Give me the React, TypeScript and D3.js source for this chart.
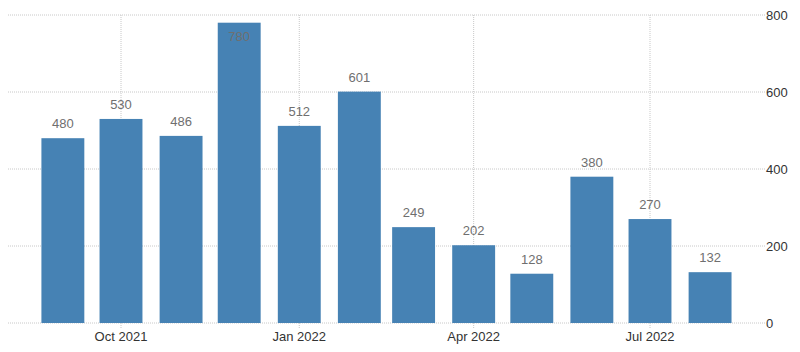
import React from "react"
import * as d3 from "d3"

// monthly values, Sep 2021 .. Aug 2022
const months = [
  "2021-09", "2021-10", "2021-11", "2021-12", "2022-01", "2022-02",
  "2022-03", "2022-04", "2022-05", "2022-06", "2022-07", "2022-08",
]
const values = [480, 530, 486, 780, 512, 601, 249, 202, 128, 380, 270, 132]
const yTicks = [0, 200, 400, 600, 800]

const W = 800
const H = 352
const FONT = "'Liberation Sans', Arial, sans-serif"

const parse = d3.timeParse("%Y-%m")

export default function App() {
  const dates = months.map((m) => parse(m) as Date)

  // time axis: pin Oct 2021 and Jul 2022 ticks
  const x = d3
    .scaleTime()
    .domain([new Date(2021, 9, 1), new Date(2022, 6, 1)])
    .range([121, 650])
  const y = d3.scaleLinear().domain([0, 800]).range([323, 15])

  const gridLeft = 8
  const gridRight = 765
  const monthPx = (x.range()[1] - x.range()[0]) / 9
  const barW = monthPx * 0.73

  const xTicks = x.ticks(d3.timeMonth.every(3) as any)
  const fmt = d3.timeFormat("%b %Y")

  return (
    <svg
      width={W}
      height={H}
      style={{ position: "absolute", left: 0, top: 0, background: "#fff" }}
      fontFamily={FONT}
    >
      {/* horizontal grid */}
      {yTicks.map((t) => (
        <g key={"y" + t}>
          <line
            x1={gridLeft}
            x2={gridRight}
            y1={y(t)}
            y2={y(t)}
            stroke="#c8c8c8"
            strokeDasharray="1,1"
            strokeWidth={1}
          />
          <text x={gridRight + 1} y={y(t) + 5} fontSize={13} fill="#333">
            {t}
          </text>
        </g>
      ))}

      {/* vertical grid + x labels */}
      {xTicks.map((d) => (
        <g key={"x" + d.getTime()}>
          <line
            x1={x(d)}
            x2={x(d)}
            y1={y(800)}
            y2={y(0) + 5}
            stroke="#c8c8c8"
            strokeDasharray="1,1"
            strokeWidth={1}
          />
          <text x={x(d)} y={341} fontSize={13} fill="#333" textAnchor="middle">
            {fmt(d)}
          </text>
        </g>
      ))}

      {/* bars */}
      {dates.map((d, i) => {
        const top = y(values[i])
        const inside = top - 23 < y(800)
        return (
          <g key={months[i]}>
            <rect
              x={x(d) - barW / 2}
              y={top}
              width={barW}
              height={y(0) - top}
              fill="#4682b4"
            />
            <text
              x={x(d)}
              y={inside ? top + 18 : top - 10}
              fontSize={13}
              fill="#6f6f6f"
              textAnchor="middle"
            >
              {values[i]}
            </text>
          </g>
        )
      })}
    </svg>
  )
}
